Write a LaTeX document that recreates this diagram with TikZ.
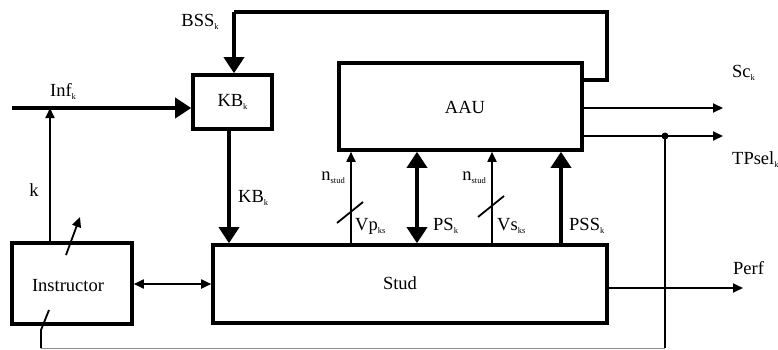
\documentclass[tikz,border=0pt]{standalone}
\usepackage{fontspec}
\setmainfont{Liberation Serif}
\usetikzlibrary{arrows.meta}
\newcommand\sbx[1]{\raisebox{-3pt}{\fontsize{8.5}{9}\selectfont #1}}
\begin{document}
\begin{tikzpicture}[x=1pt,y=-1pt,
  blk/.style={draw,line width=3.6pt,inner sep=0pt,font=\fontsize{18}{20}\selectfont},
  lbl/.style={inner sep=0pt,font=\fontsize{18.5}{20}\selectfont},
  thk/.style={line width=3.6pt,-{Triangle[length=16pt,width=20pt]}},
  thkd/.style={line width=3.6pt,{Triangle[length=16pt,width=20pt]}-{Triangle[length=16pt,width=20pt]}},
  thn/.style={line width=1.8pt,-{Triangle[length=10pt,width=9pt]}},
  thnd/.style={line width=1.8pt,{Triangle[length=10pt,width=9pt]}-{Triangle[length=10pt,width=9pt]}},
  plain/.style={line width=1.8pt}]
\useasboundingbox (0,0) rectangle (778,349);
% blocks
\node[blk,minimum width=79pt,minimum height=54pt,font=\fontsize{18.5}{20}\selectfont] (KB) at (232.5,102) {KB\sbx{k}};
\node[blk,minimum width=243pt,minimum height=87pt] (AAU) at (460.5,106.5) {};
\node[lbl] (AAUt) at (465,107) {AAU};
\node[blk,minimum width=394pt,minimum height=78pt] (Stud) at (410,284) {};
\node[lbl] (Studt) at (400,283) {Stud};
\node[blk,minimum width=120pt,minimum height=81pt] (Ins) at (72,283.5) {};
\node[lbl] (Inst) at (68,286) {Instructor};
% coordinates
\coordinate (inf0) at (12,108);
\coordinate (kj) at (50,108);
\coordinate (b1) at (607,80);
\coordinate (b2) at (607,12);
\coordinate (b3) at (234,12);
\coordinate (sc1) at (723,108);
\coordinate (tp1) at (723,136);
\coordinate (dot) at (665,136);
\coordinate (bot1) at (665,348);
\coordinate (bot2) at (41,348);
\coordinate (bot3) at (41,330);
\coordinate (bot4) at (49,310);
\coordinate (pf1) at (743,288);
\coordinate (ia1) at (66,255);
\coordinate (ia2) at (80,217);
% connectors
\draw[thk] (inf0) -- (inf0 -| KB.west);
\draw[thn] (Ins.north -| kj) -- (kj);
\draw[line width=3.6pt] (AAU.east |- b1) -- (b1) -- (b2) -- (b3);
\draw[thk] (b3) -- (b3 |- KB.north);
\draw[thk] ([xshift=-3.5pt]KB.south) -- ([xshift=-3.5pt]KB.south |- Stud.north);
\draw[thnd] (Ins.east |- 0,284) -- (Stud.west |- 0,284);
\draw[thn] (Stud.north -| 351,0) -- (AAU.south -| 351,0);
\draw[thkd] (AAU.south -| 417,0) -- (Stud.north -| 417,0);
\draw[thn] (Stud.north -| 492,0) -- (AAU.south -| 492,0);
\draw[thk] (Stud.north -| 561,0) -- (AAU.south -| 561,0);
\draw[plain] (337,223) -- (363,202);
\draw[plain] (478,217) -- (504,196);
\draw[thn] (AAU.east |- sc1) -- (sc1);
\draw[thn] (AAU.east |- tp1) -- (tp1);
\fill (dot) circle (3.5pt);
\draw[plain] (dot) -- (bot1);
\draw[line width=1pt,black!45] (bot1) -- (bot2);
\draw[plain] (bot2) -- (bot3) -- (bot4);
\draw[thn] (Stud.east |- pf1) -- (pf1);
\draw[thn] (ia1) -- (ia2);
% labels
\node[lbl] (lbss) at (200,22) {BSS\sbx{k}};
\node[lbl] (linf) at (63,91) {Inf\sbx{k}};
\node[lbl] (lk) at (34,190) {k};
\node[lbl,anchor=west] (lkb) at (238,198) {KB\sbx{k}};
\node[lbl,anchor=east] (ln1) at (345,178) {n\sbx{stud}};
\node[lbl,anchor=east] (ln2) at (486,178) {n\sbx{stud}};
\node[lbl,anchor=west] (lvp) at (355,226) {Vp\sbx{ks}};
\node[lbl,anchor=west] (lps) at (433,226) {PS\sbx{k}};
\node[lbl,anchor=west] (lvs) at (497,226) {Vs\sbx{ks}};
\node[lbl,anchor=west] (lpss) at (569,226) {PSS\sbx{k}};
\node[lbl,anchor=west] (lsc) at (732,73) {Sc\sbx{k}};
\node[lbl,anchor=west] (ltp) at (732,160) {TPsel\sbx{k}};
\node[lbl,anchor=west] (lpf) at (733,268) {Perf};
\end{tikzpicture}
\end{document}
